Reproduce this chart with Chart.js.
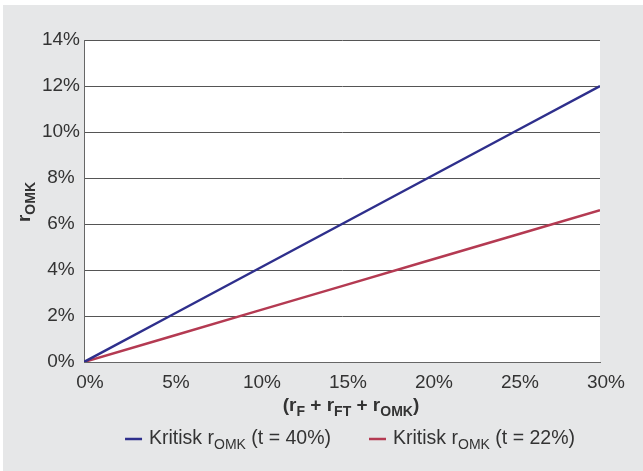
<!DOCTYPE html>
<html>
<head>
<meta charset="utf-8">
<script src="https://cdn.jsdelivr.net/npm/chart.js@4/dist/chart.umd.min.js"></script>
<style>
  html, body { margin: 0; padding: 0; background: #ffffff; }
  #wrap { position: relative; width: 643px; height: 471px; }
  canvas { display: block; }
</style>
</head>
<body>
<div id="wrap"><canvas id="chart" width="643" height="471"></canvas></div>
<script>
// Sum of required returns (r_F + r_FT + r_OMK), in percent
const sumRates = [0, 5, 10, 15, 20, 25, 30];
// Critical r_OMK for tax rate t = 40%
const critical40 = [0, 2, 4, 6, 8, 10, 12];
// Critical r_OMK for tax rate t = 22%
const critical22 = [0, 1.1, 2.2, 3.3, 4.4, 5.5, 6.6];

const xTickLabels = ['0%', '5%', '10%', '15%', '20%', '25%', '30%'];
const yTickLabels = ['0%', '2%', '4%', '6%', '8%', '10%', '12%', '14%'];

const seriesNames = [
  { main: 'Kritisk r', sub: 'OMK', tail: ' (t = 40%)' },
  { main: 'Kritisk r', sub: 'OMK', tail: ' (t = 22%)' }
];

const BLUE = '#2e2f8c';
const RED = '#b43a52';
const TEXT = '#333333';
const FONT = '"Liberation Sans", Arial, sans-serif';

function toPoints(xs, ys) {
  return xs.map((x, i) => ({ x: x, y: ys[i] }));
}

// draws a run of text pieces, some of them subscripts, starting at x
function drawRich(ctx, pieces, x, y, size, weight) {
  let cx = x;
  pieces.forEach(p => {
    const s = p.sub ? Math.round(size * 0.74) : size;
    ctx.font = weight + ' ' + s + 'px ' + FONT;
    ctx.fillText(p.text, cx, y + (p.sub ? size * 0.3 : 0));
    cx += ctx.measureText(p.text).width;
  });
  return cx - x;
}
function measureRich(ctx, pieces, size, weight) {
  let w = 0;
  pieces.forEach(p => {
    const s = p.sub ? Math.round(size * 0.74) : size;
    ctx.font = weight + ' ' + s + 'px ' + FONT;
    w += ctx.measureText(p.text).width;
  });
  return w;
}

const backdrop = {
  id: 'backdrop',
  beforeDraw(chart) {
    const { ctx, chartArea: a } = chart;
    ctx.save();
    ctx.fillStyle = '#ffffff';
    ctx.fillRect(0, 0, chart.width, chart.height);
    ctx.fillStyle = '#e6e7e8';
    ctx.fillRect(3, 5, chart.width - 3, chart.height - 5);
    ctx.fillStyle = '#ffffff';
    ctx.fillRect(a.left, a.top, a.right - a.left, a.bottom - a.top);
    ctx.restore();
  }
};

const annotations = {
  id: 'annotations',
  afterDraw(chart) {
    const { ctx } = chart;
    ctx.save();
    ctx.fillStyle = TEXT;
    ctx.textBaseline = 'middle';
    ctx.textAlign = 'left';

    // x axis title
    const xTitle = [
      { text: '(r' }, { text: 'F', sub: true }, { text: ' + r' }, { text: 'FT', sub: true },
      { text: ' + r' }, { text: 'OMK', sub: true }, { text: ')' }
    ];
    const xw = measureRich(ctx, xTitle, 19, 'bold');
    drawRich(ctx, xTitle, 351 - xw / 2, 406, 19, 'bold');

    // y axis title, rotated
    const yTitle = [{ text: 'r' }, { text: 'OMK', sub: true }];
    const yw = measureRich(ctx, yTitle, 19, 'bold');
    ctx.save();
    ctx.translate(25, 202);
    ctx.rotate(-Math.PI / 2);
    drawRich(ctx, yTitle, -yw / 2, 0, 19, 'bold');
    ctx.restore();

    // legend
    const colors = [BLUE, RED];
    const lineLen = 17, gapLine = 7, gapItem = 38;
    const items = seriesNames.map(n => [{ text: n.main }, { text: n.sub, sub: true }, { text: n.tail }]);
    const widths = items.map(p => measureRich(ctx, p, 19.5, 'normal'));
    const total = widths.reduce((s, w) => s + w + lineLen + gapLine, 0) + gapItem;
    let lx = 350 - total / 2;
    const ly = 439;
    items.forEach((p, i) => {
      ctx.strokeStyle = colors[i];
      ctx.lineWidth = 2.5;
      ctx.beginPath();
      ctx.moveTo(lx, ly);
      ctx.lineTo(lx + lineLen, ly);
      ctx.stroke();
      ctx.fillStyle = TEXT;
      drawRich(ctx, p, lx + lineLen + gapLine, ly, 19.5, 'normal');
      lx += lineLen + gapLine + widths[i] + gapItem;
    });
    ctx.restore();
  }
};

new Chart(document.getElementById('chart'), {
  type: 'line',
  data: {
    datasets: [
      {
        label: 'Kritisk rOMK (t = 40%)',
        data: toPoints(sumRates, critical40),
        borderColor: BLUE,
        borderWidth: 2.5,
        pointRadius: 0,
        tension: 0,
        fill: false
      },
      {
        label: 'Kritisk rOMK (t = 22%)',
        data: toPoints(sumRates, critical22),
        borderColor: RED,
        borderWidth: 2.5,
        pointRadius: 0,
        tension: 0,
        fill: false
      }
    ]
  },
  options: {
    responsive: false,
    animation: false,
    devicePixelRatio: 1,
    layout: { padding: { top: 40, right: 43, left: 0, bottom: 0 } },
    plugins: {
      legend: { display: false },
      tooltip: { enabled: false }
    },
    scales: {
      x: {
        type: 'linear',
        min: 0,
        max: 30,
        afterFit(scale) { scale.height = 109; },
        afterBuildTicks(scale) { scale.ticks = sumRates.map(v => ({ value: v })); },
        grid: { display: false, drawTicks: false },
        border: { display: true, color: '#666666', width: 1 },
        ticks: {
          padding: 9,
          labelOffset: 6,
          maxRotation: 0,
          autoSkip: false,
          color: TEXT,
          font: { family: FONT, size: 19 },
          callback: (v, i) => xTickLabels[i]
        }
      },
      y: {
        type: 'linear',
        min: 0,
        max: 14,
        afterFit(scale) { scale.width = 84; },
        grid: { color: '#555555', lineWidth: 1, drawTicks: false },
        border: { display: true, color: '#666666', width: 1 },
        ticks: {
          stepSize: 2,
          padding: 4,
          crossAlign: 'center',
          color: TEXT,
          font: { family: FONT, size: 19 },
          callback: (v, i) => yTickLabels[i]
        }
      }
    }
  },
  plugins: [backdrop, annotations]
});
</script>
</body>
</html>
